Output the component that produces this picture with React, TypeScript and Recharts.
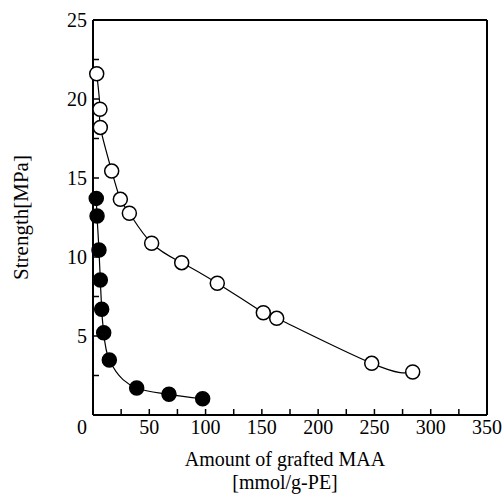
import { ComposedChart, Line, XAxis, YAxis } from "recharts";

const openX = [3.3, 6.2, 6.5, 16.6, 24.3, 32.3, 52.1, 78.8, 110.4, 151.3, 163.2, 247.6, 284];
const openY = [21.6, 19.35, 18.2, 15.44, 13.65, 12.77, 10.87, 9.64, 8.34, 6.47, 6.12, 3.27, 2.72];
const filledX = [2.9, 3.6, 5.3, 6.5, 7.7, 9.5, 14.5, 38.8, 67.5, 97.4];
const filledY = [13.71, 12.6, 10.44, 8.54, 6.69, 5.21, 3.48, 1.71, 1.31, 1.03];

const xTicks = [0, 25, 50, 75, 100, 125, 150, 175, 200, 225, 250, 275, 300, 325, 350];
const yTicks = [0, 2.5, 5, 7.5, 10, 12.5, 15, 17.5, 20, 22.5, 25];

const openData = openX.map((x, i) => ({ x, y: openY[i] }));
const filledData = filledX.map((x, i) => ({ x, y: filledY[i] }));

const FONT = "'Liberation Serif', 'Times New Roman', serif";
const TICK_LEN = 6;
const textStyle = { fontFamily: FONT, fontSize: 20, fill: "#000" };

const Dot = (fill: string) => (p: any) =>
  p.cx == null ? null : (
    <circle key={p.index} cx={p.cx} cy={p.cy} r={7} fill={fill} stroke="#000" strokeWidth={1.5} />
  );

// ticks point inward; labels only on the bottom/left sides
const makeXTick = (side: "bottom" | "top") => (p: any) => {
  const v = p.payload.value;
  const dir = side === "bottom" ? -1 : 1;
  return (
    <g>
      <line x1={p.x} x2={p.x} y1={p.y} y2={p.y + dir * TICK_LEN} stroke="#000" strokeWidth={1.5} />
      {side === "bottom" && v % 50 === 0 && (
        <text x={v === 0 ? p.x - 11 : p.x} y={p.y + 12} textAnchor="middle" dominantBaseline="central" style={textStyle}>
          {v}
        </text>
      )}
    </g>
  );
};

const makeYTick = (side: "left" | "right") => (p: any) => {
  const v = p.payload.value;
  const dir = side === "left" ? 1 : -1;
  return (
    <g>
      <line x1={p.x} x2={p.x + dir * TICK_LEN} y1={p.y} y2={p.y} stroke="#000" strokeWidth={1.5} />
      {side === "left" && v % 5 === 0 && v !== 0 && (
        <text x={p.x - 6} y={p.y} textAnchor="end" dominantBaseline="central" style={textStyle}>
          {v}
        </text>
      )}
    </g>
  );
};

const XLabel = (p: any) => {
  const vb = p.viewBox;
  const cx = vb.x + vb.width / 2 - 5;
  return (
    <g>
      <text x={cx} y={vb.y + 44} textAnchor="middle" dominantBaseline="central" style={textStyle}>Amount of grafted MAA</text>
      <text x={cx} y={vb.y + 67} textAnchor="middle" dominantBaseline="central" style={textStyle}>[mmol/g-PE]</text>
    </g>
  );
};

export default function App() {
  return (
    <div style={{ position: "absolute", left: 0, top: 0, background: "#fff" }}>
      <ComposedChart width={504} height={494} margin={{ top: 0, right: 0, bottom: 0, left: 0 }}>
        <XAxis
          dataKey="x"
          type="number"
          domain={[0, 350]}
          ticks={xTicks}
          interval={0}
          height={79}
          tickSize={0}
          tickMargin={0}
          tick={makeXTick("bottom")}
          axisLine={{ stroke: "#000", strokeWidth: 2 }}
          allowDuplicatedCategory={false}
          label={<XLabel />}
        />
        <XAxis
          xAxisId="top"
          orientation="top"
          type="number"
          domain={[0, 350]}
          ticks={xTicks}
          interval={0}
          height={20}
          tickSize={0}
          tickMargin={0}
          tick={makeXTick("top")}
          axisLine={{ stroke: "#000", strokeWidth: 2 }}
        />
        <YAxis
          type="number"
          domain={[0, 25]}
          ticks={yTicks}
          interval={0}
          width={93}
          tickSize={0}
          tickMargin={0}
          tick={makeYTick("left")}
          axisLine={{ stroke: "#000", strokeWidth: 2 }}
          label={{ value: "Strength[MPa]", angle: -90, position: "insideLeft", offset: 21, style: { ...textStyle, fontSize: 21, textAnchor: "middle" } }}
        />
        <YAxis
          yAxisId="right"
          orientation="right"
          type="number"
          domain={[0, 25]}
          ticks={yTicks}
          interval={0}
          width={17}
          tickSize={0}
          tickMargin={0}
          tick={makeYTick("right")}
          axisLine={{ stroke: "#000", strokeWidth: 2 }}
        />
        <Line data={openData} dataKey="y" type="natural" stroke="#000" strokeWidth={1.2} dot={Dot("#fff")} activeDot={false} isAnimationActive={false} />
        <Line data={filledData} dataKey="y" type="monotone" stroke="#000" strokeWidth={1.2} dot={Dot("#000")} activeDot={false} isAnimationActive={false} />
      </ComposedChart>
    </div>
  );
}
